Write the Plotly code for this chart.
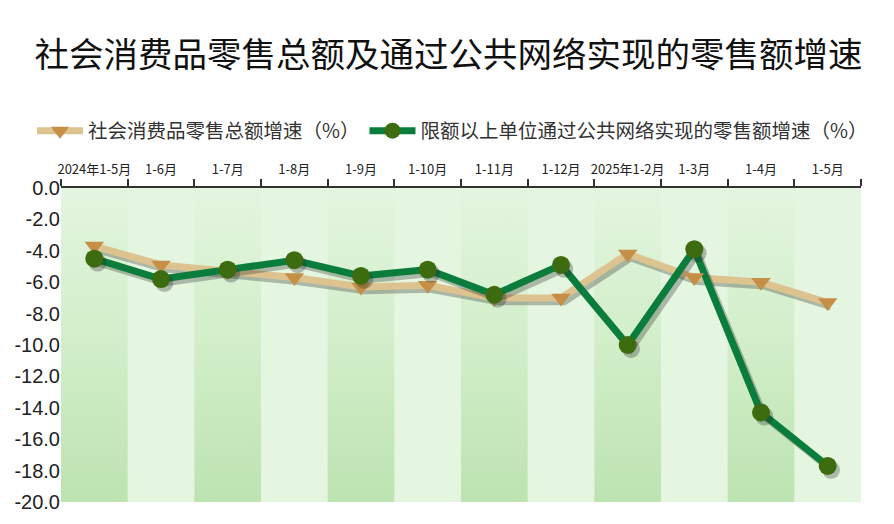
import plotly.graph_objects as go

months = ["2024年1-5月", "1-6月", "1-7月", "1-8月", "1-9月", "1-10月", "1-11月",
          "1-12月", "2025年1-2月", "1-3月", "1-4月", "1-5月"]
total_retail = [-3.7, -4.9, -5.3, -5.7, -6.3, -6.2, -7.0, -7.0, -4.2, -5.7, -6.0, -7.3]
online_retail = [-4.5, -5.8, -5.2, -4.6, -5.6, -5.2, -6.8, -4.9, -10.0, -3.9, -14.3, -17.7]
name_total = "社会消费品零售总额增速（%）"
name_online = "限额以上单位通过公共网络实现的零售额增速（%）"
y_ticks = [0, -2, -4, -6, -8, -10, -12, -14, -16, -18, -20]

TAN_LINE = "#dcc38f"
TAN_MARK = "#c68f48"
GRN_LINE = "#0a7c3c"
GRN_MARK = "#3d6b0f"
SHADOW = "rgba(40,40,40,0.30)"

n = len(months)
xs = list(range(n))
ymin, ymax = min(y_ticks), max(y_ticks)

# page offset compensation (browser body margin)
OFF = 8
W, H = 894, 524
L, T, R, B = 61 - OFF, 188 - OFF, W - (861 - OFF), H - (502 - OFF)
PW, PH = W - L - R, H - T - B

fig = go.Figure()

# alternating background bands (dark ones with vertical gradient)
for i in range(0, n, 2):
    fig.add_trace(go.Scatter(
        x=[i - 0.5, i + 0.5, i + 0.5, i - 0.5, i - 0.5],
        y=[ymin, ymin, ymax, ymax, ymin],
        mode="lines", line=dict(width=0), fill="toself",
        fillgradient=dict(type="vertical",
                          colorscale=[[0, "#bde3b1"], [0.55, "#d3efcb"], [1, "#e3f5df"]]),
        hoverinfo="skip", showlegend=False))

# legend entries
fig.add_trace(go.Scatter(x=[None], y=[None], name=name_total, mode="lines+markers",
                         line=dict(color=TAN_LINE, width=7),
                         marker=dict(symbol="triangle-down", size=16, color=TAN_MARK)))
fig.add_trace(go.Scatter(x=[None], y=[None], name=name_online, mode="lines+markers",
                         line=dict(color=GRN_LINE, width=7),
                         marker=dict(symbol="circle", size=16, color=GRN_MARK)))

dx, dy = 0.05, -0.25
# tan shadow + line
fig.add_trace(go.Scatter(x=[v + dx for v in xs], y=[v + dy for v in total_retail], mode="lines",
                         line=dict(color=SHADOW, width=7), hoverinfo="skip", showlegend=False))
fig.add_trace(go.Scatter(x=xs, y=total_retail, mode="lines",
                         line=dict(color=TAN_LINE, width=7), showlegend=False))
# green shadow + line
fig.add_trace(go.Scatter(x=[v + dx for v in xs], y=[v + dy for v in online_retail], mode="lines",
                         line=dict(color=SHADOW, width=7), hoverinfo="skip", showlegend=False))
fig.add_trace(go.Scatter(x=xs, y=online_retail, mode="lines",
                         line=dict(color=GRN_LINE, width=7), showlegend=False))
# markers
fig.add_trace(go.Scatter(x=xs, y=total_retail, mode="markers",
                         marker=dict(symbol="triangle-down", size=17, color=TAN_MARK),
                         showlegend=False))
fig.add_trace(go.Scatter(x=[v + dx for v in xs], y=[v + dy for v in online_retail], mode="markers",
                         marker=dict(symbol="circle", size=18, color=SHADOW),
                         hoverinfo="skip", showlegend=False))
fig.add_trace(go.Scatter(x=xs, y=online_retail, mode="markers",
                         marker=dict(symbol="circle", size=18, color=GRN_MARK),
                         showlegend=False))

fig.update_layout(
    width=W, height=H,
    margin=dict(l=L, r=R, t=T, b=B, autoexpand=False),
    paper_bgcolor="white", plot_bgcolor="#e4f6e0",
    title=dict(text="社会消费品零售总额及通过公共网络实现的零售额增速",
               x=(448.5 - OFF) / W, xanchor="center", y=1 - (55 - OFF) / H, yanchor="middle",
               font=dict(family="Noto Sans CJK SC", size=34.5, color="#111")),
    legend=dict(orientation="h", xref="paper", yref="paper",
                x=(32 - OFF - L) / PW, y=(H - B - (131 - OFF)) / PH,
                xanchor="left", yanchor="middle",
                font=dict(family="Noto Sans CJK SC", size=19.5, color="#333"),
                itemwidth=46, bgcolor="rgba(0,0,0,0)"),
    font=dict(family="Liberation Sans", color="#333"),
    xaxis=dict(range=[-0.5, n - 0.5], side="top", tickmode="array", automargin=False,
               tickvals=xs, ticktext=months, ticks="outside", ticklen=7,
               tickcolor="rgba(0,0,0,0)",
               minor=dict(tickmode="array", tickvals=[i - 0.5 for i in range(n + 1)],
                          ticks="outside", ticklen=7, tickcolor="#333", tickwidth=1.5),
               showline=True, linecolor="#333", linewidth=1.5, showgrid=False, zeroline=False,
               tickfont=dict(family="Noto Sans CJK SC", size=13, color="#222"), fixedrange=True),
    yaxis=dict(range=[ymin, ymax], tickmode="array", tickvals=y_ticks, automargin=False,
               ticktext=[f"{v:.1f}" for v in y_ticks], showgrid=False, zeroline=False,
               showline=False, ticks="",
               tickfont=dict(family="Liberation Sans", size=20, color="#222"), fixedrange=True),
)

fig.write_html("out.html")
